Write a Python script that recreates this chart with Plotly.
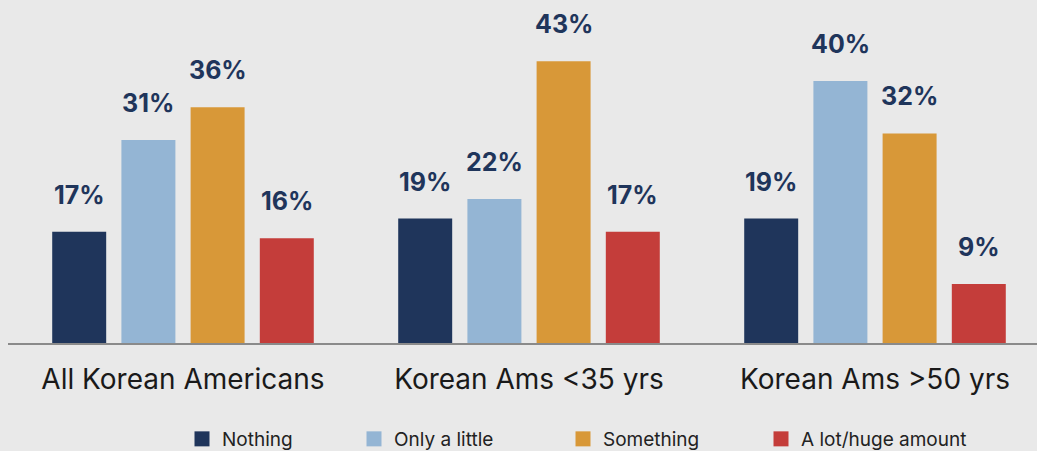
import plotly.graph_objects as go

groups = ["All Korean Americans", "Korean Ams <35 yrs", "Korean Ams >50 yrs"]
series = ["Nothing", "Only a little", "Something", "A lot/huge amount"]
values = {
    "Nothing": [17, 19, 19],
    "Only a little": [31, 22, 40],
    "Something": [36, 43, 32],
    "A lot/huge amount": [16, 17, 9],
}
colors = ["#1f355b", "#94b5d4", "#d89838", "#c43d3a"]

W, H = 1037, 451
ML, MR, MT, MB = 8, 0, 0, 108
group_px = 346.0          # pixel distance between group centres
first_center_px = 183.0   # pixel x of the first group centre
x_lo = (ML - first_center_px) / group_px
x_hi = (W - MR - first_center_px) / group_px
slot_px = 69.3            # pixel spacing between bars inside a group
FONT = "Inter, Lato, sans-serif"

fig = go.Figure()
annotations = []
for i, (name, col) in enumerate(zip(series, colors)):
    fig.add_trace(go.Bar(
        x=groups, y=values[name], name=name,
        marker=dict(color=col, line=dict(width=0)),
        showlegend=False,
    ))
    # legend swatch, one legend per series so each can be placed freely
    fig.add_trace(go.Scatter(
        x=[None], y=[None], mode="markers", name=name,
        marker=dict(symbol="square", size=15, color=col),
        legend="legend" if i == 0 else f"legend{i + 1}",
    ))
    for g, v in zip(groups, values[name]):
        annotations.append(dict(
            x=g, y=v, xref="x", yref="y", text=f"<b>{v}%</b>",
            showarrow=False, yanchor="bottom",
            xshift=(i - 1.5) * slot_px, yshift=20,
            font=dict(family=FONT, size=25, color="#1f355b"),
        ))

legend_px = [195, 367, 576, 774]
legend_y_px = 439
layout_legends = {}
for i, px in enumerate(legend_px):
    key = "legend" if i == 0 else f"legend{i + 1}"
    layout_legends[key] = dict(
        xref="container", yref="container",
        x=(px - 13) / W, xanchor="left",
        y=(H - legend_y_px) / H, yanchor="middle",
        orientation="h", bgcolor="rgba(0,0,0,0)", borderwidth=0,
        font=dict(family=FONT, size=19, color="#222222"),
    )

fig.update_layout(
    width=W, height=H,
    margin=dict(l=ML, r=MR, t=MT, b=MB, pad=0, autoexpand=False),
    paper_bgcolor="#e9e9e9", plot_bgcolor="#e9e9e9",
    barmode="group", bargap=0.2, bargroupgap=0.22,
    annotations=annotations,
    **layout_legends,
)
fig.update_xaxes(
    range=[x_lo, x_hi], showline=True, linecolor="#8a8a8a", linewidth=2,
    showgrid=False, zeroline=False, ticks="", ticklabelstandoff=10,
    tickfont=dict(family=FONT, size=28, color="#1a1a1a"),
)
fig.update_yaxes(
    range=[0, 343 / 6.55], visible=False, showgrid=False, zeroline=False,
)

fig.write_html("out.html")
